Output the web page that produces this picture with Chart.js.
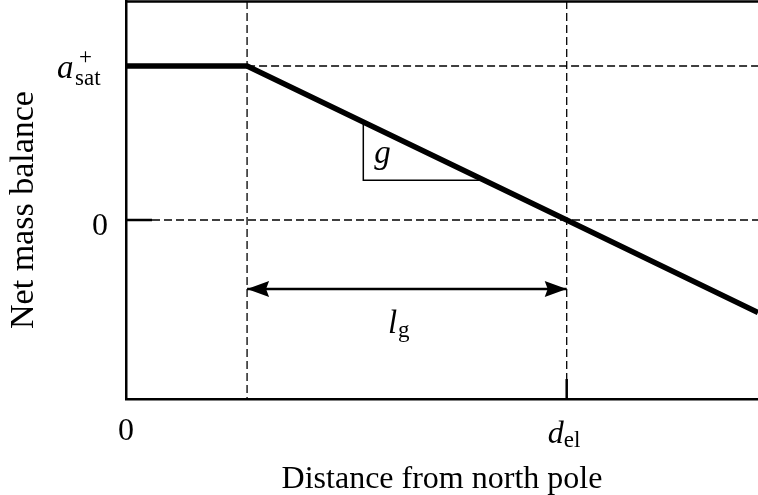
<!DOCTYPE html>
<html>
<head>
<meta charset="utf-8">
<script src="https://cdn.jsdelivr.net/npm/chart.js@4/dist/chart.umd.min.js"></script>
<style>
  html, body { margin: 0; padding: 0; background: #fff; }
  #wrap { width: 758px; height: 495px; }
</style>
</head>
<body>
<div id="wrap"><canvas id="massBalanceChart"></canvas></div>
<script>
// distance from the pole (arbitrary units) and net mass balance (units of a_sat+)
const distance = [0, 1, 3.64, 5.22];
const netBalance = [1, 1, 0, -0.6];

// slope triangle marking the gradient g
const slopeX = [1.96, 1.96, 2.96];
const slopeY = [0.636, 0.258, 0.258];

// double arrow showing l_g between saturation point and equilibrium line
const arrowX = [1, 3.64];
const arrowLevel = -0.448;

const dSat = distance[1];
const dEl = distance[2];
const xRange = [0, 5.22];
const yRange = [-1.162, 1.422];

const SERIF = "'Liberation Serif', 'Times New Roman', serif";

const toPoints = (xs, ys) => xs.map((x, i) => ({ x: x, y: ys[i] }));

document.addEventListener('DOMContentLoaded', function () {

    const guides = {
        id: 'guides',
        beforeDatasetsDraw(chart) {
            const { ctx, chartArea: a, scales: { x, y } } = chart;
            ctx.save();
            ctx.strokeStyle = '#000';
            ctx.lineWidth = 1.3;
            ctx.setLineDash([8, 4]);
            ctx.beginPath();
            ctx.moveTo(x.getPixelForValue(dSat), a.top);
            ctx.lineTo(x.getPixelForValue(dSat), a.bottom);
            ctx.moveTo(x.getPixelForValue(dEl), a.top);
            ctx.lineTo(x.getPixelForValue(dEl), a.bottom - 20);
            ctx.moveTo(x.getPixelForValue(dSat), y.getPixelForValue(1));
            ctx.lineTo(a.right, y.getPixelForValue(1));
            ctx.moveTo(a.left + 26, y.getPixelForValue(0));
            ctx.lineTo(a.right, y.getPixelForValue(0));
            ctx.stroke();
            ctx.restore();
        },
        afterDraw(chart) {
            const { ctx, chartArea: a, scales: { x, y } } = chart;
            ctx.save();

            // top frame line and solid tick marks
            ctx.strokeStyle = '#000';
            ctx.lineWidth = 2.5;
            ctx.beginPath();
            ctx.moveTo(a.left, a.top + 0.5);
            ctx.lineTo(a.right, a.top + 0.5);
            ctx.moveTo(a.left, y.getPixelForValue(0));
            ctx.lineTo(a.left + 26, y.getPixelForValue(0));
            ctx.moveTo(x.getPixelForValue(dEl), a.bottom);
            ctx.lineTo(x.getPixelForValue(dEl), a.bottom - 20);
            ctx.stroke();

            // arrow heads
            const ay = y.getPixelForValue(arrowLevel);
            const head = (tipX, dir) => {
                ctx.beginPath();
                ctx.moveTo(tipX, ay);
                ctx.lineTo(tipX + dir * 22, ay - 8);
                ctx.lineTo(tipX + dir * 19, ay);
                ctx.lineTo(tipX + dir * 22, ay + 8);
                ctx.closePath();
                ctx.fill();
            };
            ctx.fillStyle = '#000';
            head(x.getPixelForValue(arrowX[0]), 1);
            head(x.getPixelForValue(arrowX[1]), -1);

            const text = (str, px, py, size, italic, align) => {
                ctx.font = (italic ? 'italic ' : '') + size + 'px ' + SERIF;
                ctx.textAlign = align || 'left';
                ctx.textBaseline = 'alphabetic';
                ctx.fillText(str, px, py);
            };

            // y tick labels
            const y0 = y.getPixelForValue(0);
            const y1 = y.getPixelForValue(1);
            text('0', a.left - 18, y0 + 15, 32, false, 'right');
            text('a', a.left - 69, y1 + 12, 33, true);
            text('sat', a.left - 51, y1 + 19, 23, false);
            text('+', a.left - 47, y1 - 2, 23, false);

            // x tick labels
            const xEl = x.getPixelForValue(dEl);
            text('0', x.getPixelForValue(0), a.bottom + 41, 32, false, 'center');
            text('d', xEl - 19, a.bottom + 44, 32, true);
            text('el', xEl - 3, a.bottom + 48, 23, false);

            // annotations
            text('g', x.getPixelForValue(slopeX[0]) + 11, y.getPixelForValue(slopeY[1]) - 17, 33, true);
            const xMid = (x.getPixelForValue(arrowX[0]) + x.getPixelForValue(arrowX[1])) / 2;
            text('l', xMid - 19, ay + 44, 33, true);
            text('g', xMid - 9, ay + 48, 23, false);

            // axis titles
            text('Distance from north pole', (a.left + a.right) / 2, 488, 32, false, 'center');
            ctx.translate(33, 210);
            ctx.rotate(-Math.PI / 2);
            text('Net mass balance', 0, 0, 34, false, 'center');

            ctx.restore();
        }
    };

    new Chart(document.getElementById('massBalanceChart'), {
        type: 'line',
        data: {
            datasets: [{
                data: toPoints(distance, netBalance),
                borderColor: '#000',
                borderWidth: 5.5,
                borderJoinStyle: 'miter',
                pointRadius: 0,
                tension: 0
            }, {
                data: toPoints(slopeX, slopeY),
                borderColor: '#000',
                borderWidth: 1.5,
                pointRadius: 0,
                tension: 0
            }, {
                data: toPoints(arrowX, [arrowLevel, arrowLevel]),
                borderColor: '#000',
                borderWidth: 2.5,
                pointRadius: 0,
                tension: 0
            }]
        },
        options: {
            responsive: true,
            maintainAspectRatio: false,
            animation: false,
            layout: { padding: { left: 126, top: 1, right: 0, bottom: 96 } },
            plugins: { legend: { display: false }, tooltip: { enabled: false } },
            scales: {
                x: {
                    type: 'linear',
                    min: xRange[0],
                    max: xRange[1],
                    ticks: { display: false },
                    grid: { display: false, drawTicks: false },
                    border: { display: true, color: '#000', width: 2.5 }
                },
                y: {
                    type: 'linear',
                    min: yRange[0],
                    max: yRange[1],
                    ticks: { display: false },
                    grid: { display: false, drawTicks: false },
                    border: { display: true, color: '#000', width: 2.5 }
                }
            }
        },
        plugins: [guides]
    });

});
</script>
</body>
</html>
